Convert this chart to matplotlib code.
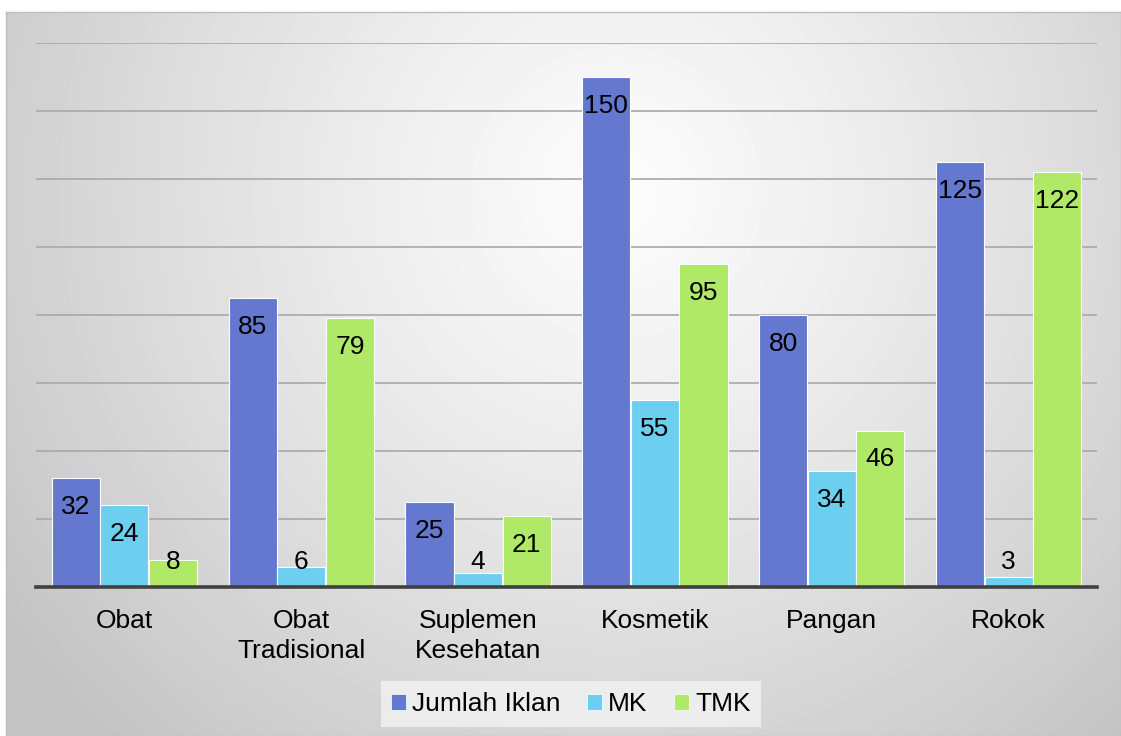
import numpy as np
import matplotlib
matplotlib.use('Agg')
import matplotlib.pyplot as plt
import matplotlib.patches as mpatches

plt.rcParams['font.family'] = ['Liberation Sans', 'DejaVu Sans']

categories = ['Obat', 'Obat\nTradisional', 'Suplemen\nKesehatan', 'Kosmetik', 'Pangan', 'Rokok']
jumlah_iklan = [32, 85, 25, 150, 80, 125]
mk = [24, 6, 4, 55, 34, 3]
tmk = [8, 79, 21, 95, 46, 122]
series_names = ['Jumlah Iklan', 'MK', 'TMK']
colors = ['#6478d0', '#6dcff0', '#b0e868']

W, H = 1121, 736
fig = plt.figure(figsize=(W / 100, H / 100), dpi=100)

# radial grey background, lighter near upper middle
bg = fig.add_axes([6 / W, 0, (W - 6) / W, (H - 12) / H])
bw, bh = W - 6, H - 12
yy, xx = np.mgrid[0:bh, 0:bw]
r = np.sqrt((xx - 610) ** 2 + (yy - 180) ** 2)
val = 252 - 56 * np.clip(r / 740, 0, 1) ** 1.2
bg.imshow(val, cmap='gray', vmin=0, vmax=255, aspect='auto', interpolation='bilinear')
bg.set_xticks([])
bg.set_yticks([])
for s in bg.spines.values():
    s.set_color('#bdbdbd')
    s.set_linewidth(1)

ax = fig.add_axes([36 / W, (H - 587) / H, (1097 - 36) / W, (587 - 43) / H])
ax.patch.set_alpha(0)

x = np.arange(len(categories))
width = 0.272
offsets = [-0.275, 0, 0.275]
for vals, off, col in zip([jumlah_iklan, mk, tmk], offsets, colors):
    ax.bar(x + off, vals, width, color=col, edgecolor='white', linewidth=0.8, zorder=3)
    for xi, v in zip(x, vals):
        ly = max(v - 8.5, 7.3)
        ax.text(xi + off, ly, str(v), ha='center', va='center', fontsize=19, color='black', zorder=4)

ax.set_xlim(-0.5, len(categories) - 0.5)
ax.set_ylim(0, 160)
ax.set_yticks(np.arange(0, 161, 20))
ax.yaxis.grid(True, color='#a8a8a8', linewidth=1.2, zorder=0)
ax.set_axisbelow(True)
ax.tick_params(axis='y', left=False, labelleft=False)
ax.tick_params(axis='x', bottom=False, pad=12)
ax.set_xticks(x)
ax.set_xticklabels(categories, fontsize=19, linespacing=1.35)
for s in ax.spines.values():
    s.set_visible(False)
ax.axhline(0, color='#404040', linewidth=2.6, zorder=5, clip_on=False)

handles = [mpatches.Patch(facecolor=c, edgecolor='white', linewidth=0.5, label=n) for n, c in zip(series_names, colors)]
leg = fig.legend(handles=handles, loc='center', bbox_to_anchor=(571 / W, (H - 704) / H), ncol=3,
                 fontsize=19, frameon=True, fancybox=False, handlelength=0.55, handleheight=0.55,
                 handletextpad=0.25, columnspacing=1.0, borderpad=0.4, borderaxespad=0)
leg.get_frame().set_facecolor('#f3f3f3')
leg.get_frame().set_edgecolor('none')

plt.savefig('out.png', dpi=100)
